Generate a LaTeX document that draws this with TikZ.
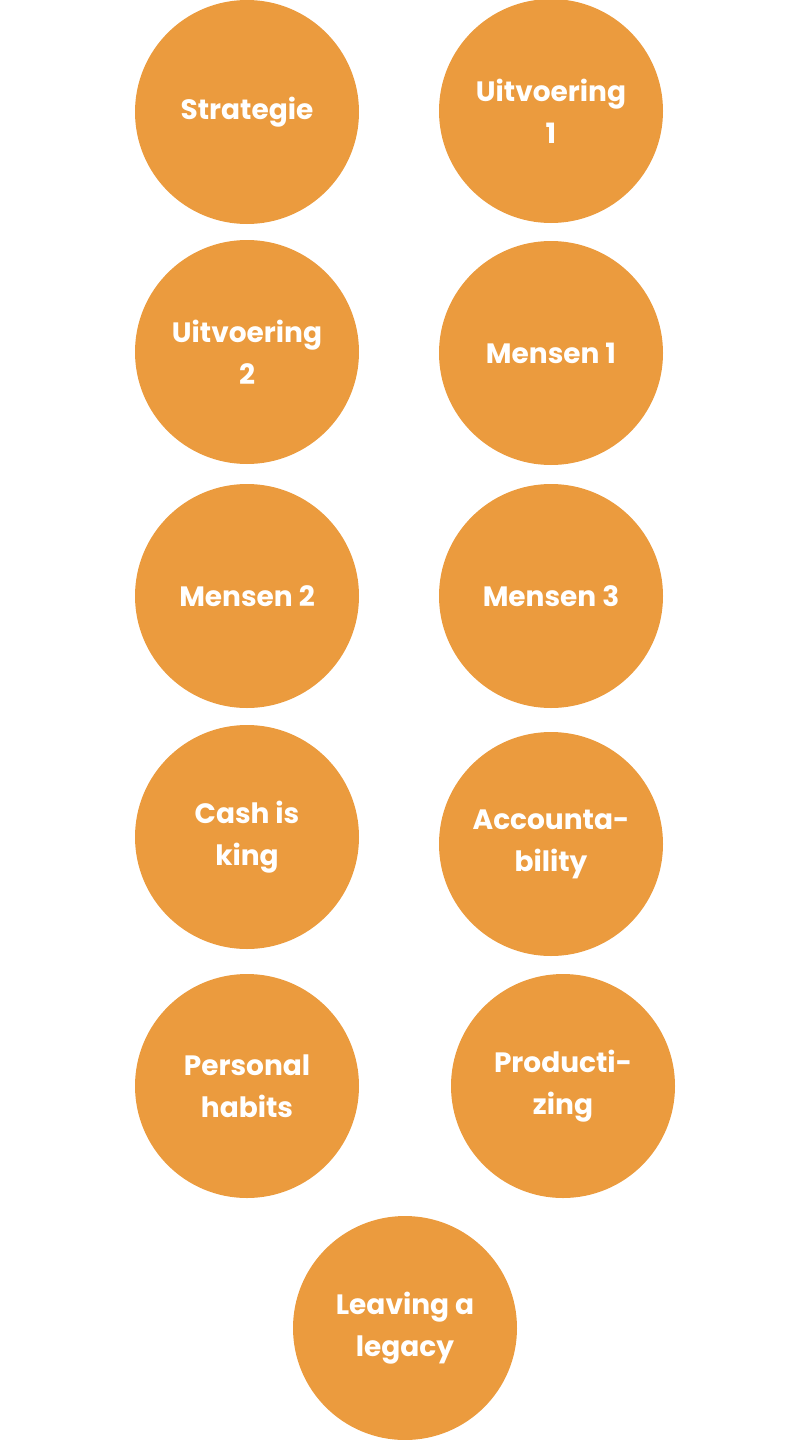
\documentclass[tikz,border=0pt]{standalone}
\usepackage{fontspec}
\setmainfont{Poppins}
\usepackage{tikz}
\definecolor{topicorange}{RGB}{235,155,62}

\begin{document}
\begin{tikzpicture}[x=1pt,y=-1pt,
  topic/.style={circle,fill=topicorange,draw=none,minimum size=224pt,inner sep=0pt,
    text=white,align=center,font=\bfseries\fontsize{28}{42}\selectfont}]
\useasboundingbox (0,0) rectangle (810,1440);

% row 1
\node[topic] (strat) at (247,112) {Strategie};
\node[topic] (uit1) at (551,111) {Uitvoering\\1};
% row 2
\node[topic] (uit2) at (247,352) {Uitvoering\\2};
\node[topic] (mens1) at (551,353) {Mensen 1};
% row 3
\node[topic] (mens2) at (247,596) {Mensen 2};
\node[topic] (mens3) at (551,596) {Mensen 3};
% row 4
\node[topic] (cash) at (247,837) {Cash is\\king};
\node[topic] (acc) at (551,844) {Accounta-\\bility};
% row 5
\node[topic] (habits) at (247,1086) {Personal\\habits};
\node[topic] (prod) at (563,1086) {Producti-\\zing};
% row 6
\node[topic] (legacy) at (405,1328) {Leaving a\\legacy};

\end{tikzpicture}
\end{document}
